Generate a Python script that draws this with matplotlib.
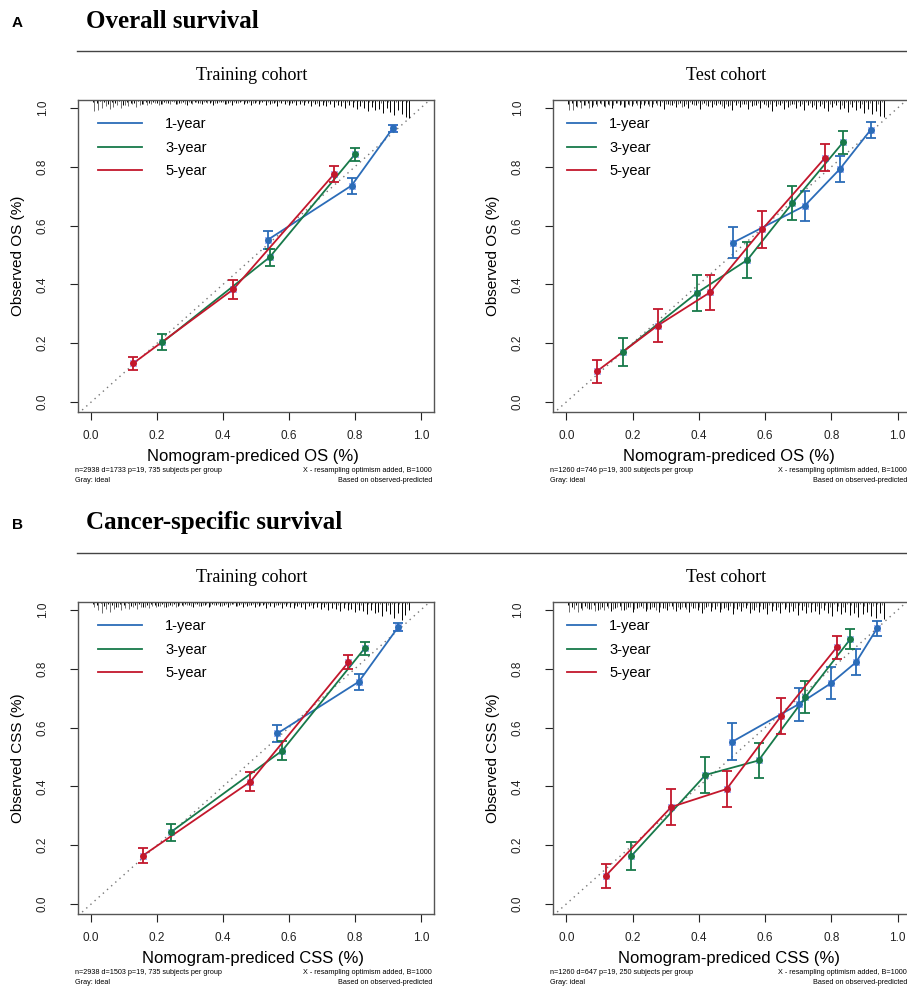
import numpy as np
import matplotlib.pyplot as plt
from matplotlib.lines import Line2D

plt.rcParams['font.family'] = ['Liberation Sans', 'DejaVu Sans']

W, H = 907, 986
BLUE = '#2b6cb8'
GREEN = '#17794a'
RED = '#c3172c'
XMARK = '#3a5cff'

# ---- Overall survival, training cohort
os_tr_1y_x = [0.535, 0.790, 0.915]
os_tr_1y_y = [0.551, 0.736, 0.931]
os_tr_1y_e = [0.029, 0.027, 0.012]
os_tr_3y_x = [0.216, 0.541, 0.800]
os_tr_3y_y = [0.203, 0.492, 0.842]
os_tr_3y_e = [0.027, 0.029, 0.023]
os_tr_5y_x = [0.128, 0.431, 0.736]
os_tr_5y_y = [0.132, 0.383, 0.774]
os_tr_5y_e = [0.022, 0.032, 0.027]

# ---- Overall survival, test cohort
os_te_1y_x = [0.503, 0.719, 0.826, 0.918]
os_te_1y_y = [0.542, 0.667, 0.793, 0.925]
os_te_1y_e = [0.054, 0.050, 0.045, 0.027]
os_te_3y_x = [0.171, 0.394, 0.546, 0.682, 0.835]
os_te_3y_y = [0.171, 0.371, 0.483, 0.676, 0.883]
os_te_3y_e = [0.047, 0.060, 0.061, 0.057, 0.039]
os_te_5y_x = [0.093, 0.276, 0.434, 0.591, 0.781]
os_te_5y_y = [0.105, 0.260, 0.373, 0.587, 0.831]
os_te_5y_e = [0.039, 0.056, 0.060, 0.062, 0.046]

# ---- Cancer-specific survival, training cohort
css_tr_1y_x = [0.565, 0.812, 0.931]
css_tr_1y_y = [0.580, 0.756, 0.941]
css_tr_1y_e = [0.029, 0.027, 0.014]
css_tr_3y_x = [0.241, 0.580, 0.830]
css_tr_3y_y = [0.244, 0.522, 0.870]
css_tr_3y_e = [0.029, 0.032, 0.022]
css_tr_5y_x = [0.156, 0.483, 0.780]
css_tr_5y_y = [0.164, 0.416, 0.822]
css_tr_5y_e = [0.026, 0.033, 0.024]

# ---- Cancer-specific survival, test cohort
css_te_1y_x = [0.501, 0.702, 0.799, 0.874, 0.938]
css_te_1y_y = [0.552, 0.680, 0.751, 0.822, 0.938]
css_te_1y_e = [0.062, 0.056, 0.054, 0.044, 0.026]
css_te_3y_x = [0.196, 0.420, 0.580, 0.721, 0.857]
css_te_3y_y = [0.163, 0.439, 0.488, 0.703, 0.901]
css_te_3y_e = [0.048, 0.062, 0.061, 0.055, 0.034]
css_te_5y_x = [0.119, 0.317, 0.484, 0.648, 0.816]
css_te_5y_y = [0.096, 0.330, 0.391, 0.639, 0.873]
css_te_5y_e = [0.040, 0.062, 0.062, 0.060, 0.040]

# rug of predicted values along the top (spike heights in pixels)
rug_os_tr = [2, 3, 1, 2, 4, 2, 3, 1, 5, 2, 3, 3, 1, 4, 2, 3, 2, 3, 4, 2, 3, 1, 4, 3, 2, 5, 3, 2, 3, 4,
             2, 3, 5, 3, 2, 4, 3, 5, 3, 2, 4, 3, 5, 3, 4, 2, 5, 4, 3, 6, 3, 4, 5, 3, 5, 4, 5, 3, 6, 4,
             6, 5, 6, 4, 7, 5, 6, 8, 5, 7, 9, 6, 8, 11, 7, 10, 9, 13, 8, 12, 15, 10, 14, 17, 18]
rug_os_te = [4, 3, 6, 2, 5, 3, 7, 4, 3, 6, 4, 8, 3, 5, 7, 4, 6, 3, 8, 5, 4, 7, 3, 6, 9, 4, 5, 7, 3, 6,
             8, 4, 5, 9, 3, 6, 7, 5, 4, 8, 6, 10, 5, 7, 4, 9, 6, 5, 8, 4, 7, 11, 6, 5, 9, 7, 4, 8, 6, 10,
             5, 7, 9, 6, 8, 11, 7, 5, 9, 8, 12, 7, 10, 8, 13, 9, 14, 11, 16, 17]
rug_css_tr = [2, 3, 1, 4, 2, 3, 5, 2, 3, 1, 4, 3, 2, 5, 3, 2, 3, 4, 2, 5, 3, 2, 4, 3, 2, 3, 5, 2, 4, 3,
              5, 2, 3, 4, 3, 5, 2, 4, 3, 5, 4, 3, 5, 4, 3, 6, 4, 5, 3, 6, 4, 5, 6, 4, 5, 7, 4, 6, 5, 7,
              5, 8, 6, 7, 9, 6, 8, 7, 10, 8, 9, 12, 8, 11, 10, 14, 9, 12, 16, 11, 18, 13, 8]
rug_css_te = [3, 5, 3, 6, 4, 7, 3, 8, 5, 4, 9, 6, 4, 8, 5, 10, 6, 4, 9, 7, 5, 10, 6, 8, 4, 9, 7, 5, 10, 6,
              8, 11, 5, 9, 7, 10, 6, 8, 12, 7, 9, 6, 11, 8, 10, 7, 12, 9, 8, 11, 7, 10, 9, 13, 8, 11, 10, 9, 12, 8,
              11, 14, 9, 12, 10, 13, 11, 15, 12, 10, 14, 16, 11, 17]

tick_vals = [0.0, 0.2, 0.4, 0.6, 0.8, 1.0]
tick_labels = ['0.0', '0.2', '0.4', '0.6', '0.8', '1.0']
legend_labels = ['1-year', '3-year', '5-year']

fig = plt.figure(figsize=(W / 100, H / 100), dpi=100)


def px(x, y):
    return x / W, 1 - y / H


def panel(left, top, width, series, rug, rug_lo, rug_hi, outcome, foot_left, leg_x, hl, tp):
    height = 312
    ax = fig.add_axes([left / W, 1 - (top + height) / H, width / W, height / H])
    y_top = 1.027
    ax.set_xlim(-0.04, 1.04)
    ax.set_ylim(-0.034, y_top)
    # ideal line
    ax.plot([-0.04, 1.04], [-0.04, 1.04], color='#777777', ls=(0, (1, 3)), lw=1)
    # rug, drawn twice with a small shift so it reads as dense as the original
    rx = np.linspace(rug_lo, rug_hi, len(rug))
    hts = np.array(rug) / 294.0
    ax.vlines(rx, y_top - hts, y_top, color='black', lw=0.7)
    ax.vlines(rx[:-1] + 0.005, y_top - hts[::-1][:-1] * 0.6, y_top, color='#333333', lw=0.5)
    for (x, y, e), c, lab in zip(series, [BLUE, GREEN, RED], legend_labels):
        ax.plot(x, y, color=c, lw=1.3, label=lab)
        ax.errorbar(x, y, yerr=e, fmt='o', ms=4, color=c, ecolor=c,
                    elinewidth=1.3, capsize=3.5, capthick=1.3)
        ax.plot(x, y, 'x', color=XMARK, ms=4, mew=0.8)
    ax.set_xticks(tick_vals)
    ax.set_xticklabels(tick_labels)
    ax.set_yticks(tick_vals)
    ax.set_yticklabels(tick_labels, rotation=90, va='center')
    ax.tick_params(axis='x', direction='out', length=6, width=0.8, pad=7, labelsize=8.5, colors='#222222')
    ax.tick_params(axis='y', direction='out', length=6, width=0.8, pad=15, labelsize=8.5, colors='#222222')
    for s in ax.spines.values():
        s.set_color('#555555')
        s.set_linewidth(1)
    ax.legend(loc='upper left', bbox_to_anchor=(leg_x, 0.945), frameon=False, fontsize=10.5,
              handlelength=hl, handletextpad=tp, labelspacing=0.65, borderpad=0, borderaxespad=0)

    cx = left + width / 2
    fig.text(*px(cx - 3, top + 357), 'Nomogram-prediced %s (%%)' % outcome,
             ha='center', va='center', fontsize=12)
    fig.text(*px(left - 60, top + 156), 'Observed %s (%%)' % outcome,
             ha='center', va='center', rotation=90, fontsize=11)
    fig.text(*px(left - 3, top + 371), foot_left, ha='left', va='center', fontsize=5.2)
    fig.text(*px(left - 3, top + 380), 'Gray: ideal', ha='left', va='center', fontsize=5.2)
    fig.text(*px(left + 354, top + 371), 'X - resampling optimism added, B=1000',
             ha='right', va='center', fontsize=5.2)
    fig.text(*px(left + 354, top + 380), 'Based on observed-predicted',
             ha='right', va='center', fontsize=5.2)
    return ax


serif = ['Liberation Serif', 'DejaVu Serif']

for top_y, letter, section, outcome, data in [
    (0, 'A', 'Overall survival', 'OS',
     ([(os_tr_1y_x, os_tr_1y_y, os_tr_1y_e), (os_tr_3y_x, os_tr_3y_y, os_tr_3y_e),
       (os_tr_5y_x, os_tr_5y_y, os_tr_5y_e)],
      [(os_te_1y_x, os_te_1y_y, os_te_1y_e), (os_te_3y_x, os_te_3y_y, os_te_3y_e),
       (os_te_5y_x, os_te_5y_y, os_te_5y_e)],
      rug_os_tr, rug_os_te,
      'n=2938 d=1733 p=19, 735 subjects per group',
      'n=1260 d=746 p=19, 300 subjects per group')),
    (502, 'B', 'Cancer-specific survival', 'CSS',
     ([(css_tr_1y_x, css_tr_1y_y, css_tr_1y_e), (css_tr_3y_x, css_tr_3y_y, css_tr_3y_e),
       (css_tr_5y_x, css_tr_5y_y, css_tr_5y_e)],
      [(css_te_1y_x, css_te_1y_y, css_te_1y_e), (css_te_3y_x, css_te_3y_y, css_te_3y_e),
       (css_te_5y_x, css_te_5y_y, css_te_5y_e)],
      rug_css_tr, rug_css_te,
      'n=2938 d=1503 p=19, 735 subjects per group',
      'n=1260 d=647 p=19, 250 subjects per group')),
]:
    tr, te, rug_tr, rug_te, foot_tr, foot_te = data
    fig.text(*px(12, top_y + 23), letter, ha='left', va='center', fontsize=11, fontweight='bold')
    fig.text(*px(86, top_y + 21), section, ha='left', va='center', fontsize=18,
             fontweight='bold', family=serif)
    fig.add_artist(Line2D([77 / W, 1.0], [1 - (top_y + 51) / H] * 2, color='#444444', lw=1))
    fig.text(*px(252, top_y + 76), 'Training cohort', ha='center', va='center', fontsize=13, family=serif)
    fig.text(*px(726, top_y + 76), 'Test cohort', ha='center', va='center', fontsize=13, family=serif)

    panel(78, top_y + 100, 356, tr, rug_tr, 0.005, 0.965, outcome, foot_tr, 0.056, 3.0, 1.6)
    panel(553, top_y + 100, 358, te, rug_te, 0.004, 0.96, outcome, foot_te, 0.039, 2.0, 0.9)

fig.savefig('out.png', dpi=100)
